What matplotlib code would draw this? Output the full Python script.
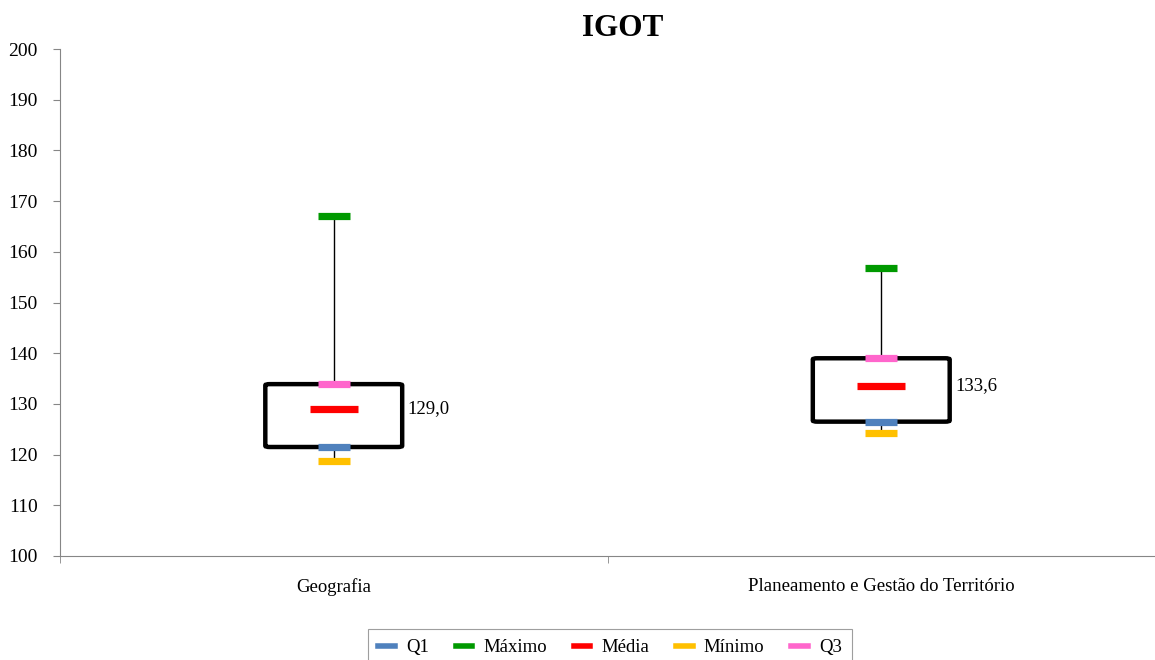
import matplotlib.pyplot as plt
from matplotlib.patches import FancyBboxPatch
from matplotlib.lines import Line2D

plt.rcParams['font.family'] = ['Liberation Serif', 'DejaVu Serif']

cursos = ['Geografia', 'Planeamento e Gestão do Território']
q1 = [121.5, 126.5]
maximo = [167.0, 156.9]
media = [129.0, 133.6]
minimo = [118.7, 124.3]
q3 = [133.9, 139.0]
media_labels = ['129,0', '133,6']

series = [('Q1', q1, '#4f81bd'), ('Máximo', maximo, '#009900'), ('Média', media, '#ff0000'),
          ('Mínimo', minimo, '#ffc000'), ('Q3', q3, '#ff66cc')]

fig = plt.figure(figsize=(11.55, 6.6), dpi=100)
ax = fig.add_axes([60 / 1155, 1 - 556 / 660, 1095 / 1155, 507 / 660])

xs = list(range(len(cursos)))
box_w = 0.25

for i in xs:
    # linha min-max
    ax.plot([i, i], [minimo[i], maximo[i]], color='black', lw=1, zorder=1)
    # caixa Q1-Q3
    box = FancyBboxPatch((i - box_w / 2, q1[i]), box_w, q3[i] - q1[i],
                         boxstyle='round,pad=0,rounding_size=0.008',
                         mutation_aspect=30,
                         facecolor='white', edgecolor='black', lw=3.2, zorder=2)
    ax.add_patch(box)
    ax.annotate(media_labels[i], (i + box_w / 2, media[i]), xytext=(4, 0),
                textcoords='offset points', va='center', ha='left', fontsize=13.5)

handles = []
for name, vals, col in series:
    size = 34 if name == 'Média' else 23.5
    ax.plot(xs, vals, linestyle='none', marker='_', markersize=size,
            markeredgewidth=5.2, color=col, zorder=3)
    handles.append(Line2D([], [], color=col, lw=4, label=name))

ax.set_xlim(-0.5, 1.5)
ax.set_ylim(100, 200)
ax.set_yticks(range(100, 201, 10))
ax.set_xticks(xs)
ax.set_xticklabels(cursos, fontsize=13.5)
ax.set_xticks([-0.5, 0.5, 1.5], minor=True)
ax.tick_params(axis='x', which='major', length=0, pad=16)
ax.tick_params(axis='x', which='minor', length=5, color='#868686', direction='out')
ax.tick_params(axis='y', length=5, color='#868686', labelsize=14, pad=11)
for s in ['top', 'right']:
    ax.spines[s].set_visible(False)
for s in ['left', 'bottom']:
    ax.spines[s].set_color('#868686')

fig.text(623 / 1155, 1 - 29 / 660, 'IGOT', ha='center', va='center',
         fontsize=22.5, fontweight='bold')

leg = fig.legend(handles=handles, loc='upper center', ncol=5,
                 bbox_to_anchor=(610 / 1155, 1 - 629 / 660), fontsize=13.5,
                 frameon=True, fancybox=False, edgecolor='#868686',
                 handlelength=0.9, columnspacing=1.4, handletextpad=0.6,
                 borderpad=0.55, borderaxespad=0)
leg.get_frame().set_linewidth(0.8)

fig.savefig('out.png', dpi=100)
